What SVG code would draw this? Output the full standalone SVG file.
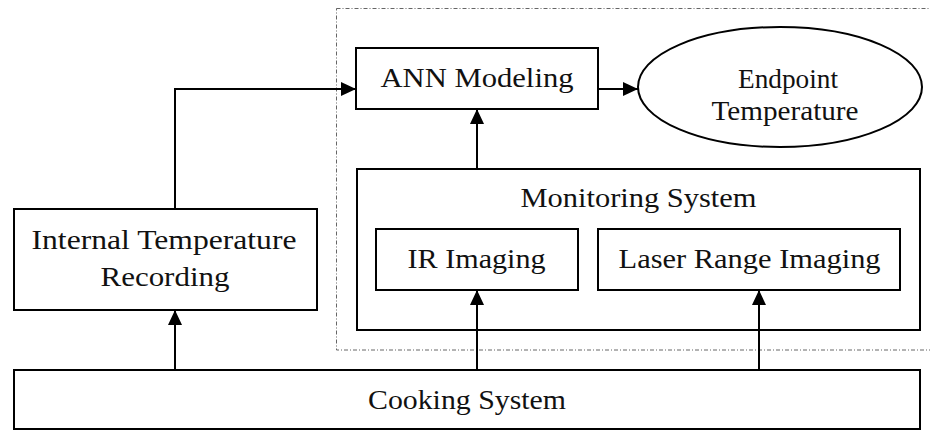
<svg xmlns="http://www.w3.org/2000/svg" width="930" height="430" viewBox="0 0 930 430">
  <style>
    .box { fill: #ffffff; stroke: #000000; stroke-width: 2; }
    .lbl { font-family: "Liberation Serif", "Times New Roman", serif; font-size: 27px; fill: #111111; text-anchor: middle; }
    .conn { fill: none; stroke: #000000; stroke-width: 2; }
    .frame { fill: none; stroke: #666666; stroke-width: 1; stroke-dasharray: 4 2 1 2; }
  </style>
  <defs>
    <marker id="arrow" markerUnits="userSpaceOnUse" markerWidth="15" markerHeight="14" refX="15" refY="7" orient="auto">
      <path d="M0,0 L15,7 L0,14 z" fill="#000000"/>
    </marker>
  </defs>
  <rect width="930" height="430" fill="#ffffff"/>

  <rect id="frame" class="frame" x="336.5" y="8.5" width="600" height="341.5"/>

  <g id="cooking-system">
    <rect class="box" x="14" y="370" width="906" height="59"/>
    <text class="lbl" x="467" y="409" textLength="198" lengthAdjust="spacingAndGlyphs">Cooking System</text>
  </g>

  <g id="internal-temperature">
    <rect class="box" x="14" y="209" width="303" height="101"/>
    <text class="lbl" x="164" y="249" textLength="265" lengthAdjust="spacingAndGlyphs">Internal Temperature</text>
    <text class="lbl" x="165" y="286" textLength="129" lengthAdjust="spacingAndGlyphs">Recording</text>
  </g>

  <g id="ann-modeling">
    <rect class="box" x="356" y="48" width="242" height="61"/>
    <text class="lbl" x="477" y="87" textLength="193" lengthAdjust="spacingAndGlyphs">ANN Modeling</text>
  </g>

  <g id="endpoint-temperature">
    <ellipse class="box" cx="780" cy="87" rx="142" ry="60"/>
    <text class="lbl" x="788" y="88" textLength="100" lengthAdjust="spacingAndGlyphs">Endpoint</text>
    <text class="lbl" x="785" y="120" textLength="147" lengthAdjust="spacingAndGlyphs">Temperature</text>
  </g>

  <g id="monitoring-system">
    <rect class="box" x="357" y="169" width="563" height="161"/>
    <text class="lbl" x="638.5" y="207" textLength="236" lengthAdjust="spacingAndGlyphs">Monitoring System</text>
  </g>

  <g id="ir-imaging">
    <rect class="box" x="376" y="229" width="202" height="61"/>
    <text class="lbl" x="476.6" y="268" textLength="138" lengthAdjust="spacingAndGlyphs">IR Imaging</text>
  </g>

  <g id="laser-range-imaging">
    <rect class="box" x="598" y="229" width="302" height="61"/>
    <text class="lbl" x="749.6" y="268" textLength="262" lengthAdjust="spacingAndGlyphs">Laser Range Imaging</text>
  </g>

  <g id="connectors">
    <path class="conn" d="M175,209 V89 H356" marker-end="url(#arrow)"/>
    <path class="conn" d="M175,370 V310" marker-end="url(#arrow)"/>
    <path class="conn" d="M598,89 H638" marker-end="url(#arrow)"/>
    <path class="conn" d="M477,169 V109" marker-end="url(#arrow)"/>
    <path class="conn" d="M477,370 V290" marker-end="url(#arrow)"/>
    <path class="conn" d="M759,370 V290" marker-end="url(#arrow)"/>
  </g>
</svg>
